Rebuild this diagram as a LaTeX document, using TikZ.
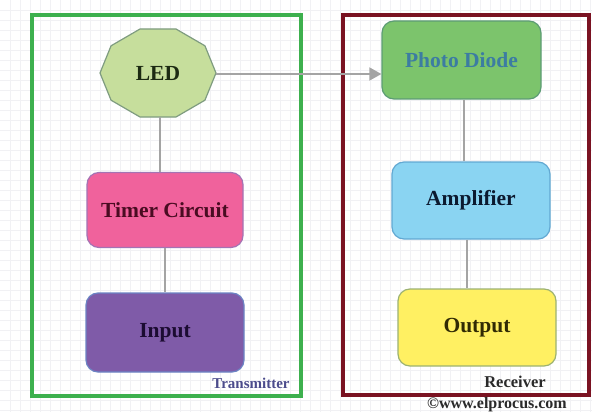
\documentclass[tikz,border=0pt]{standalone}
\usepackage{fontspec}
\setmainfont{Liberation Serif}
\usetikzlibrary{arrows.meta}
\definecolor{gridc}{HTML}{F1F1F4}
\definecolor{txframe}{HTML}{3DB04E}
\definecolor{rxframe}{HTML}{7A1222}
\definecolor{ledfill}{HTML}{C6DE9C}
\definecolor{ledline}{HTML}{7F9C80}
\definecolor{ledtext}{HTML}{1C2A12}
\definecolor{timerfill}{HTML}{F0629C}
\definecolor{timerline}{HTML}{A473B4}
\definecolor{timertext}{HTML}{4A0C22}
\definecolor{inputfill}{HTML}{7F5BA8}
\definecolor{inputline}{HTML}{6C84C4}
\definecolor{inputtext}{HTML}{1C0C32}
\definecolor{photofill}{HTML}{7CC46C}
\definecolor{photoline}{HTML}{5C9C74}
\definecolor{phototext}{HTML}{3C7CA2}
\definecolor{ampfill}{HTML}{8AD4F2}
\definecolor{ampline}{HTML}{62A8D2}
\definecolor{amptext}{HTML}{0C1A30}
\definecolor{outfill}{HTML}{FFF062}
\definecolor{outline}{HTML}{9CB272}
\definecolor{outtext}{HTML}{302A04}
\definecolor{conn}{HTML}{A4A4A4}
\definecolor{txlabel}{HTML}{4C4C8C}
\definecolor{rxlabel}{HTML}{2A2A2A}
\tikzset{
  blockbox/.style={rectangle, rounded corners=12pt, line width=1.2pt,
    font=\fontsize{21.5}{24}\selectfont\bfseries, inner sep=0pt},
  frame/.style={line width=3.5pt},
  link/.style={draw=conn, line width=1.5pt},
  smalllabel/.style={font=\fontsize{15}{17}\selectfont\bfseries, inner sep=0pt}
}
\begin{document}
\begin{tikzpicture}[x=1pt,y=-1pt]
\useasboundingbox (0,0) rectangle (592,412);
\fill[white] (0,0) rectangle (592,412);
\foreach \gx in {10,20,...,590} { \draw[gridc, line width=0.4pt] (\gx,0) -- (\gx,412); }
\foreach \gy in {10,20,...,410} { \draw[gridc, line width=0.4pt] (0,\gy) -- (592,\gy); }
% frames
\draw[frame, txframe] (32,15) rectangle (301,396);
\draw[frame, rxframe] (343,15) rectangle (589,395);
% LED decagon
\filldraw[fill=ledfill, draw=ledline, line width=1.2pt]
  (158+58,73) \foreach \a in {36,72,...,324} { -- ({158+58*cos(\a)},{73-46.3*sin(\a)}) } -- cycle;
\node[minimum width=116pt, minimum height=88pt, inner sep=0pt,
  font=\fontsize{21.5}{24}\selectfont\bfseries, text=ledtext] (led) at (158,73) {LED};
% blocks
\node[blockbox, fill=timerfill, draw=timerline, text=timertext,
  minimum width=156pt, minimum height=75pt] (timer) at (165,210) {Timer Circuit};
\node[blockbox, fill=inputfill, draw=inputline, text=inputtext,
  minimum width=158pt, minimum height=79pt] (input) at (165,332.5) {Input};
\node[blockbox, fill=photofill, draw=photoline, text=phototext,
  minimum width=159pt, minimum height=78pt] (photo) at (461.5,60) {Photo Diode};
\node[blockbox, fill=ampfill, draw=ampline, text=amptext,
  minimum width=158pt, minimum height=77pt] (amp) at (471,200.5) {Amplifier};
\node[blockbox, fill=outfill, draw=outline, text=outtext,
  minimum width=158pt, minimum height=77pt] (out) at (477,327.5) {Output};
% connectors
\draw[link] ([xshift=2pt]led.south) -- ([xshift=2pt]led.south |- timer.north);
\draw[link] (timer.south) -- (input.north);
\draw[link, -{Triangle[length=12pt,width=13pt,fill=conn]}]
  ([yshift=-1pt]led.east) -- ([yshift=-1pt]led.east -| photo.west);
\draw[link] ([xshift=2.5pt]photo.south) -- ([xshift=2.5pt]photo.south |- amp.north);
\draw[link] ([xshift=-4pt]amp.south) -- ([xshift=-4pt]amp.south |- out.north);
% labels
\node[smalllabel, text=txlabel] (txl) at (251,383) {Transmitter};
\node[smalllabel, text=rxlabel, font=\fontsize{16.5}{18}\selectfont\bfseries] (rxl) at (515,382) {Receiver};
\node[smalllabel, text=rxlabel, font=\fontsize{16}{18}\selectfont\bfseries] (copy) at (497,405) {©www.elprocus.com};
\end{tikzpicture}
\end{document}
